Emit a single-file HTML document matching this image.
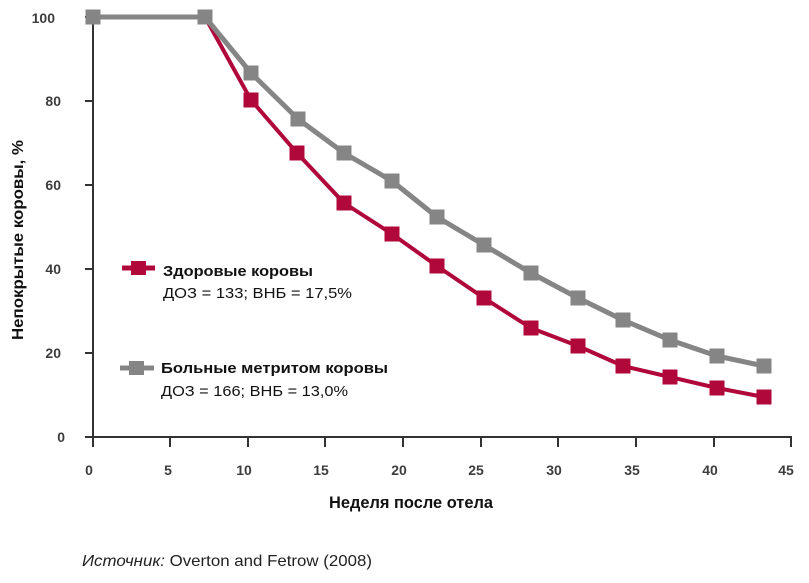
<!DOCTYPE html>
<html><head><meta charset="utf-8"><style>
html,body{margin:0;padding:0;background:#fff;}
svg{display:block;}
text{font-family:"Liberation Sans","DejaVu Sans",sans-serif;}
</style></head><body>
<svg width="809" height="583" viewBox="0 0 809 583" xmlns="http://www.w3.org/2000/svg">
<rect width="809" height="583" fill="#fff"/>
<!-- axes -->
<g stroke="#333" stroke-width="2" fill="none">
<line x1="93" y1="17" x2="93" y2="437"/>
<line x1="85" y1="437" x2="792" y2="437"/>
<line x1="85" y1="17" x2="93" y2="17"/>
<line x1="85" y1="101" x2="93" y2="101"/>
<line x1="85" y1="185" x2="93" y2="185"/>
<line x1="85" y1="269" x2="93" y2="269"/>
<line x1="85" y1="353" x2="93" y2="353"/>
<line x1="93" y1="437" x2="93" y2="447"/>
<line x1="170" y1="437" x2="170" y2="447"/>
<line x1="248" y1="437" x2="248" y2="447"/>
<line x1="325" y1="437" x2="325" y2="447"/>
<line x1="403" y1="437" x2="403" y2="447"/>
<line x1="481" y1="437" x2="481" y2="447"/>
<line x1="558" y1="437" x2="558" y2="447"/>
<line x1="636" y1="437" x2="636" y2="447"/>
<line x1="714" y1="437" x2="714" y2="447"/>
<line x1="791" y1="437" x2="791" y2="447"/>
</g>
<!-- y tick labels -->
<g font-size="14" font-weight="bold" fill="#3d3d3d">
<text x="55" y="23" text-anchor="end">100</text>
<text x="61" y="106" text-anchor="end">80</text>
<text x="61" y="190" text-anchor="end">60</text>
<text x="61" y="274" text-anchor="end">40</text>
<text x="61" y="358" text-anchor="end">20</text>
<text x="65" y="442" text-anchor="end">0</text>
</g>
<!-- x tick labels -->
<g font-size="14" font-weight="bold" fill="#3d3d3d" text-anchor="middle">
<text x="89" y="475">0</text>
<text x="168" y="475">5</text>
<text x="244" y="475">10</text>
<text x="321" y="475">15</text>
<text x="399" y="475">20</text>
<text x="476" y="475">25</text>
<text x="554" y="475">30</text>
<text x="632" y="475">35</text>
<text x="710" y="475">40</text>
<text x="786" y="475">45</text>
</g>
<!-- axis titles -->
<text x="329" y="508" font-size="17" font-weight="bold" fill="#111" textLength="164" lengthAdjust="spacingAndGlyphs">Неделя после отела</text>
<text transform="translate(23,340) rotate(-90)" font-size="16" font-weight="bold" fill="#111" textLength="200" lengthAdjust="spacingAndGlyphs">Непокрытые коровы, %</text>
<!-- series red -->
<polyline fill="none" stroke="#b0083a" stroke-width="4" stroke-linejoin="round" points="93,17 205,17 251,100 297,153 344,203 392,234 437,266 484,298 531,328 578,346 623,366 670,377 717,388 764,397"/>
<g fill="#b0083a">
<rect x="243.5" y="92.5" width="15" height="15"/>
<rect x="289.5" y="145.5" width="15" height="15"/>
<rect x="336.5" y="195.5" width="15" height="15"/>
<rect x="384.5" y="226.5" width="15" height="15"/>
<rect x="429.5" y="258.5" width="15" height="15"/>
<rect x="476.5" y="290.5" width="15" height="15"/>
<rect x="523.5" y="320.5" width="15" height="15"/>
<rect x="570.5" y="338.5" width="15" height="15"/>
<rect x="615.5" y="358.5" width="15" height="15"/>
<rect x="662.5" y="369.5" width="15" height="15"/>
<rect x="709.5" y="380.5" width="15" height="15"/>
<rect x="756.5" y="389.5" width="15" height="15"/>
</g>
<!-- series grey -->
<polyline fill="none" stroke="#858585" stroke-width="5" stroke-linejoin="round" points="93,17 205,17 251,73 298,119 344,153 392,181 437,217 484,245 531,273 578,298 623,320 670,340 717,356 764,366"/>
<g fill="#858585">
<rect x="85.5" y="9.5" width="15" height="15"/>
<rect x="197.5" y="9.5" width="15" height="15"/>
<rect x="243.5" y="65.5" width="15" height="15"/>
<rect x="290.5" y="111.5" width="15" height="15"/>
<rect x="336.5" y="145.5" width="15" height="15"/>
<rect x="384.5" y="173.5" width="15" height="15"/>
<rect x="429.5" y="209.5" width="15" height="15"/>
<rect x="476.5" y="237.5" width="15" height="15"/>
<rect x="523.5" y="265.5" width="15" height="15"/>
<rect x="570.5" y="290.5" width="15" height="15"/>
<rect x="615.5" y="312.5" width="15" height="15"/>
<rect x="662.5" y="332.5" width="15" height="15"/>
<rect x="709.5" y="348.5" width="15" height="15"/>
<rect x="756.5" y="358.5" width="15" height="15"/>
</g>
<!-- legend -->
<line x1="122" y1="268" x2="155" y2="268" stroke="#b0083a" stroke-width="5"/>
<rect x="131" y="261" width="15" height="14" fill="#b0083a"/>
<line x1="120" y1="368" x2="154" y2="368" stroke="#858585" stroke-width="5"/>
<rect x="129" y="361" width="15" height="14" fill="#858585"/>
<text x="163" y="276" font-size="15" font-weight="bold" fill="#111" textLength="150" lengthAdjust="spacingAndGlyphs">Здоровые коровы</text>
<text x="163" y="298" font-size="15" fill="#111" textLength="189" lengthAdjust="spacingAndGlyphs">ДОЗ = 133; ВНБ = 17,5%</text>
<text x="161" y="373" font-size="15" font-weight="bold" fill="#111" textLength="227" lengthAdjust="spacingAndGlyphs">Больные метритом коровы</text>
<text x="161" y="396" font-size="15" fill="#111" textLength="187" lengthAdjust="spacingAndGlyphs">ДОЗ = 166; ВНБ = 13,0%</text>
<!-- source -->
<text x="82" y="566" font-size="16" fill="#222" textLength="290" lengthAdjust="spacingAndGlyphs"><tspan font-style="italic">Источник:</tspan> Overton and Fetrow (2008)</text>
</svg>
</body></html>
